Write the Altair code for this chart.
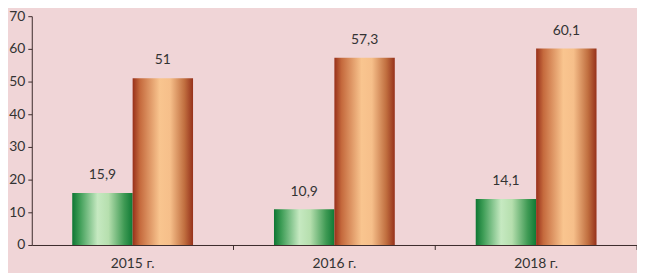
import altair as alt
import pandas as pd

years = ["2015 г.", "2016 г.", "2018 г."]
green_vals = [15.9, 10.9, 14.1]
orange_vals = [51, 57.3, 60.1]
green_labels = ["15,9", "10,9", "14,1"]
orange_labels = ["51", "57,3", "60,1"]

rows = []
for y, v, l in zip(years, green_vals, green_labels):
    rows.append({"year": y, "series": "a", "value": v, "label": l})
for y, v, l in zip(years, orange_vals, orange_labels):
    rows.append({"year": y, "series": "b", "value": v, "label": l})
df = pd.DataFrame(rows)
years_df = pd.DataFrame({"year": years})

BG = "#f0d5d7"
FONT = "Lato"
AX = "#3b2b2b"
H = 231

x_scale = alt.Scale(domain=years, paddingInner=0, paddingOuter=0)
x_axis = alt.Axis(
    title=None, labelAngle=0, ticks=False,
    domainColor=AX, labelPadding=12,
    labelFont=FONT, labelFontSize=14, labelColor="#333333",
)
x_enc = alt.X("year:N", sort=years, scale=x_scale, axis=x_axis)
xo_enc = alt.XOffset(
    "series:N",
    scale=alt.Scale(domain=["a", "b"], paddingInner=0, paddingOuter=0.67),
)
y_enc = alt.Y(
    "value:Q",
    scale=alt.Scale(domain=[0, 70], nice=False),
    axis=alt.Axis(
        title=None, values=list(range(0, 71, 10)), grid=False,
        domainColor=AX, tickColor=AX, tickSize=4, labelPadding=3,
        labelFont=FONT, labelFontSize=14, labelColor="#333333",
    ),
)

def grad(stops):
    return alt.Gradient(
        gradient="linear",
        stops=[alt.GradientStop(color=c, offset=o) for o, c in stops],
        x1=0, x2=1, y1=0, y2=0,
    )

green = grad([(0, "#0e7633"), (0.12, "#3c9c55"), (0.42, "#c6e9c1"),
              (0.6, "#b6dfae"), (0.86, "#3f9a54"), (1, "#0f7a35")])
orange = grad([(0, "#98301a"), (0.12, "#c56a3d"), (0.45, "#f9c58f"),
               (0.62, "#f6bf8a"), (0.86, "#c06e3f"), (1, "#96311b")])

base = alt.Chart(df).encode(x=x_enc, xOffset=xo_enc, y=y_enc)

bars_g = base.transform_filter(alt.datum.series == "a").mark_bar(color=green)
bars_o = base.transform_filter(alt.datum.series == "b").mark_bar(color=orange)
labels = base.mark_text(
    baseline="bottom", dy=-11, font=FONT, fontSize=14, color="#333333"
).encode(text="label:N")

sep_ticks = alt.Chart(years_df).mark_rule(color=AX, strokeWidth=1).encode(
    x=alt.X("year:N", sort=years, scale=x_scale, bandPosition=1, axis=x_axis),
    y=alt.value(H),
    y2=alt.value(H + 5),
)

chart = (
    alt.layer(bars_g, bars_o, labels, sep_ticks)
    .properties(
        width=611, height=H, background=BG,
        autosize=alt.AutoSizeParams(type="none"),
        padding={"left": 24, "top": 7, "right": 0, "bottom": 27},
    )
    .configure_view(stroke=None, fill=BG)
)

chart.save("out.html", embed_options={"renderer": "svg", "actions": False})
